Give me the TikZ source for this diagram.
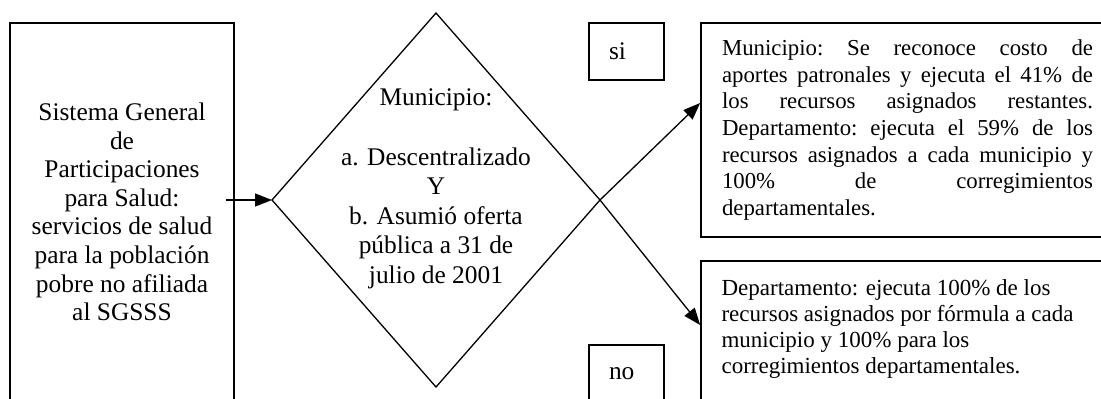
\documentclass[tikz,border=0pt]{standalone}
\usepackage{fontspec}
\setmainfont{Liberation Serif}
\usetikzlibrary{arrows.meta,calc}
\begin{document}
\begin{tikzpicture}[x=0.5pt,y=-0.5pt,
  box/.style={draw, line width=0.75pt, inner sep=0pt},
  tagbox/.style={box, minimum width=37.5pt, minimum height=28.5pt, text width=17.5pt,
    inner xsep=10pt, inner ysep=0pt, align=left, font=\fontsize{12.7}{14.3}\selectfont},
  edge/.style={line width=0.65pt},
  arr/.style={line width=0.65pt, -{Triangle[length=8.5pt,width=6.5pt]}},
  bigtext/.style={align=center, font=\fontsize{12.7}{14.3}\selectfont},
  smalltext/.style={font=\fontsize{11.4}{13.3}\selectfont\frenchspacing}]
\useasboundingbox (0,0) rectangle (1101,398);
\clip (0,0) rectangle (1101,398);

% source box
\node[box, bigtext, minimum width=112pt, minimum height=189pt] (src) at (122,212)
  {Sistema General\\de\\Participaciones\\para Salud:\\servicios de salud\\para la población\\pobre no afiliada\\al SGSSS};

% decision diamond
\coordinate (dl) at (272,200);
\coordinate (dt) at (436,13);
\coordinate (dr) at (600,200);
\coordinate (db) at (436,387);
\draw[edge] (dl) -- (dt) -- (dr) -- (db) -- cycle;
\node[align=center, font=\fontsize{12.7}{14.8}\selectfont] (cond) at (436,189)
  {Municipio:\\[14.8pt]a. Descentralizado\\Y\\b. Asumió oferta\\pública a 31 de\\julio de 2001};

% si / no tags
\node[tagbox] (si) at (626.5,51.5) {si};
\node[tagbox] (no) at (626.5,373.5) {no};

% outcome boxes
\node[box, line width=0.85pt, smalltext, minimum width=206.5pt, minimum height=107pt, text width=185.5pt, align=justify] (yes) at (907.5,130)
  {Municipio: Se reconoce costo de\linebreak
   aportes patronales y ejecuta el 41\% de\linebreak
   los recursos asignados restantes.\linebreak
   Departamento: ejecuta el 59\% de los\linebreak
   recursos asignados a cada municipio y\linebreak
   100\% de corregimientos\linebreak
   departamentales.};
\node[box, line width=0.85pt, minimum width=206.5pt, minimum height=80pt] (nob) at (907.5,341) {};
\node[anchor=west, align=left, inner sep=0pt, font=\fontsize{11.5}{13.0}\selectfont] (nt)
  at ([shift={(21,-12.5)}]nob.west)
  {Departamento: ejecuta 100\% de los\\recursos asignados por fórmula a cada\\municipio y 100\% para los\\corregimientos departamentales.};

% connectors
\coordinate (a0) at (226,200);
\draw[arr] (a0) -- (dl);
\draw[arr] (dr) -- ([yshift=13.5pt]yes.west);
\draw[arr] (dr) -- ([yshift=8pt]nob.west);
\end{tikzpicture}
\end{document}
